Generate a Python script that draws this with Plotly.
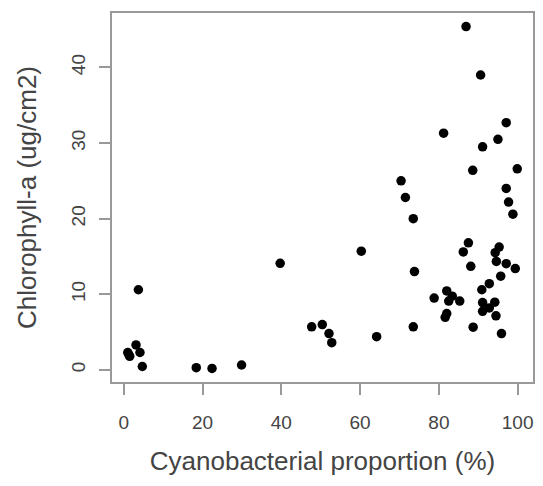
import plotly.graph_objects as go

cyano_pct = [1.0, 1.3, 1.5, 3.1, 4.1, 4.7, 3.7, 18.4, 22.4, 29.9,
             39.7, 47.7, 50.4, 52.1, 52.8, 60.3, 64.2, 70.4, 71.5, 73.5,
             73.8, 73.5, 78.8, 81.2, 82.0, 83.4, 85.3, 82.5, 82.0, 81.6,
             86.9, 90.6, 97.1, 95.0, 91.1, 88.6, 99.9, 97.1, 97.7, 98.8,
             87.5, 86.2, 95.3, 94.3, 94.6, 97.1, 99.4, 88.1, 95.7, 92.8,
             90.9, 91.1, 94.2, 92.8, 91.1, 94.5, 88.7, 95.9]
chl_a = [2.3, 2.0, 1.8, 3.3, 2.3, 0.45, 10.6, 0.3, 0.2, 0.65,
         14.1, 5.7, 6.0, 4.8, 3.6, 15.7, 4.4, 25.0, 22.8, 20.0,
         13.0, 5.7, 9.5, 31.3, 10.45, 9.75, 9.1, 9.1, 7.45, 6.95,
         45.4, 39.0, 32.7, 30.5, 29.5, 26.4, 26.6, 24.0, 22.2, 20.6,
         16.8, 15.6, 16.25, 15.5, 14.35, 14.05, 13.4, 13.7, 12.4, 11.4,
         10.6, 8.9, 8.95, 8.2, 7.75, 7.15, 5.65, 4.8]

x_ticks = [0, 20, 40, 60, 80, 100]
y_ticks = [0, 10, 20, 30, 40]

font_family = "Liberation Sans, Arial, sans-serif"
txt = "#444444"
axcol = "#999999"

fig = go.Figure(go.Scatter(
    x=cyano_pct, y=chl_a, mode="markers",
    marker=dict(color="black", size=9.5, line=dict(width=0)),
    showlegend=False,
))

fig.update_layout(
    width=543, height=486,
    margin=dict(l=112, r=8, t=13, b=104),
    paper_bgcolor="white", plot_bgcolor="white",
    font=dict(family=font_family, color=txt, size=19),
    xaxis=dict(
        range=[-3.0, 103.9], tickvals=x_ticks, ticktext=[str(v) for v in x_ticks],
        showgrid=False, zeroline=False, showline=True, mirror=True,
        linecolor=axcol, linewidth=1.5,
        ticks="outside", ticklen=11, tickcolor=axcol, tickwidth=1.5,
        ticklabelstandoff=11,
        tickfont=dict(size=19, color=txt),
        title=dict(text="Cyanobacterial proportion (%)", font=dict(size=26, color=txt), standoff=20),
    ),
    yaxis=dict(
        range=[-1.6, 47.2], tickvals=y_ticks, ticktext=[str(v) for v in y_ticks],
        showgrid=False, zeroline=False, showline=True, mirror=True,
        linecolor=axcol, linewidth=1.5,
        ticks="outside", ticklen=11, tickcolor=axcol, tickwidth=1.5,
        tickangle=-90, ticklabelstandoff=7,
        tickfont=dict(size=19, color=txt),
        title=dict(text="Chlorophyll-a (ug/cm2)", font=dict(size=26, color=txt), standoff=24),
    ),
)

fig.write_html("out.html")
